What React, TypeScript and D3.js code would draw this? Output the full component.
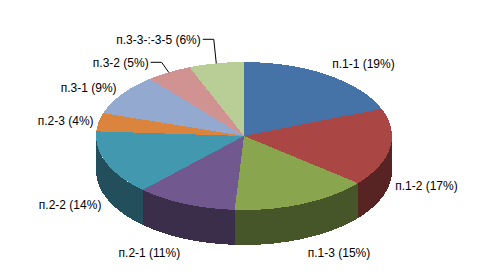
import React from "react";
import * as d3 from "d3";

const categories = ["п.1-1", "п.1-2", "п.1-3", "п.2-1", "п.2-2", "п.2-3", "п.3-1", "п.3-2", "п.3-3-:-3-5"];
const values = [19, 17, 15, 11, 14, 4, 9, 5, 6];
const colors = ["#4572A7", "#AA4643", "#89A54E", "#71588F", "#4198AF", "#DB843D", "#93A9CF", "#D19392", "#B9CD96"];
// leader-line elbows (relative to the slice's rim point) for crowded labels
const leaderElbows: Record<number, [number, number]> = { 7: [-7, -10], 8: [-2.5, -24] };

const W = 500, H = 280;
const cx = 244, cy = 136, rx = 148, ry = 74, depth = 35;

function pt(a: number, dy = 0) {
  return [cx + rx * Math.sin(a), cy - ry * Math.cos(a) + dy];
}

function shade(c: string, k: number) {
  const r = d3.rgb(c);
  return d3.rgb(r.r * k, r.g * k, r.b * k).formatHex();
}

export default function App() {
  const pie = d3.pie<number>().sort(null).startAngle(0).endAngle(2 * Math.PI);
  const arcs = pie(values);

  const topPath = (a0: number, a1: number) => {
    const p0 = pt(a0), p1 = pt(a1);
    const large = a1 - a0 > Math.PI ? 1 : 0;
    return `M${cx},${cy}L${p0[0]},${p0[1]}A${rx},${ry} 0 ${large} 1 ${p1[0]},${p1[1]}Z`;
  };
  const wallPath = (a0: number, a1: number) => {
    const s = Math.max(a0, Math.PI / 2), e = Math.min(a1, 1.5 * Math.PI);
    if (e <= s) return null;
    const t0 = pt(s), t1 = pt(e), b0 = pt(s, depth), b1 = pt(e, depth);
    return `M${t0[0]},${t0[1]}A${rx},${ry} 0 0 1 ${t1[0]},${t1[1]}L${b1[0]},${b1[1]}A${rx},${ry} 0 0 0 ${b0[0]},${b0[1]}Z`;
  };

  const labels = arcs.map((a, i) => {
    const mid = (a.startAngle + a.endAngle) / 2;
    const s = Math.sin(mid), c = Math.cos(mid);
    const p = pt(mid);
    const text = `${categories[i]} (${values[i]}%)`;
    const right = s >= 0;
    if (leaderElbows[i]) {
      const [ex, ey] = leaderElbows[i];
      const elbow = [p[0] + ex, p[1] + ey];
      const end = [elbow[0] + (right ? 11 : -11), elbow[1]];
      return {
        text,
        x: end[0] + (right ? 2 : -2),
        y: elbow[1],
        anchor: right ? "start" : "end",
        line: `M${p[0]},${p[1]}L${elbow[0]},${elbow[1]}L${end[0]},${end[1]}`,
      };
    }
    const ay = p[1] + (c < 0 ? depth : 0);
    return {
      text,
      x: p[0] + (right ? 5 : -5),
      y: ay - 14 * c + 1,
      anchor: right ? "start" : "end",
      line: null as string | null,
    };
  });

  return (
    <svg
      width={W}
      height={H}
      style={{ position: "absolute", left: 0, top: 0, background: "#fff" }}
      fontFamily="'Liberation Sans', Arial, sans-serif"
      fontSize={12}
    >
      <rect width={W} height={H} fill="#fff" />
      <g shapeRendering="crispEdges">
        {arcs.map((a, i) => {
          const d = wallPath(a.startAngle, a.endAngle);
          return d ? <path key={"w" + i} d={d} fill={shade(colors[i], 0.52)} /> : null;
        })}
        {arcs.map((a, i) => (
          <path key={"t" + i} d={topPath(a.startAngle, a.endAngle)} fill={colors[i]} />
        ))}
      </g>
      {labels.map((l, i) => (
        <g key={"l" + i}>
          {l.line && <path d={l.line} fill="none" stroke="#000" strokeWidth={1} />}
          <text x={l.x} y={l.y} dy="0.35em" textAnchor={l.anchor} fill="#000">
            {l.text}
          </text>
        </g>
      ))}
    </svg>
  );
}
